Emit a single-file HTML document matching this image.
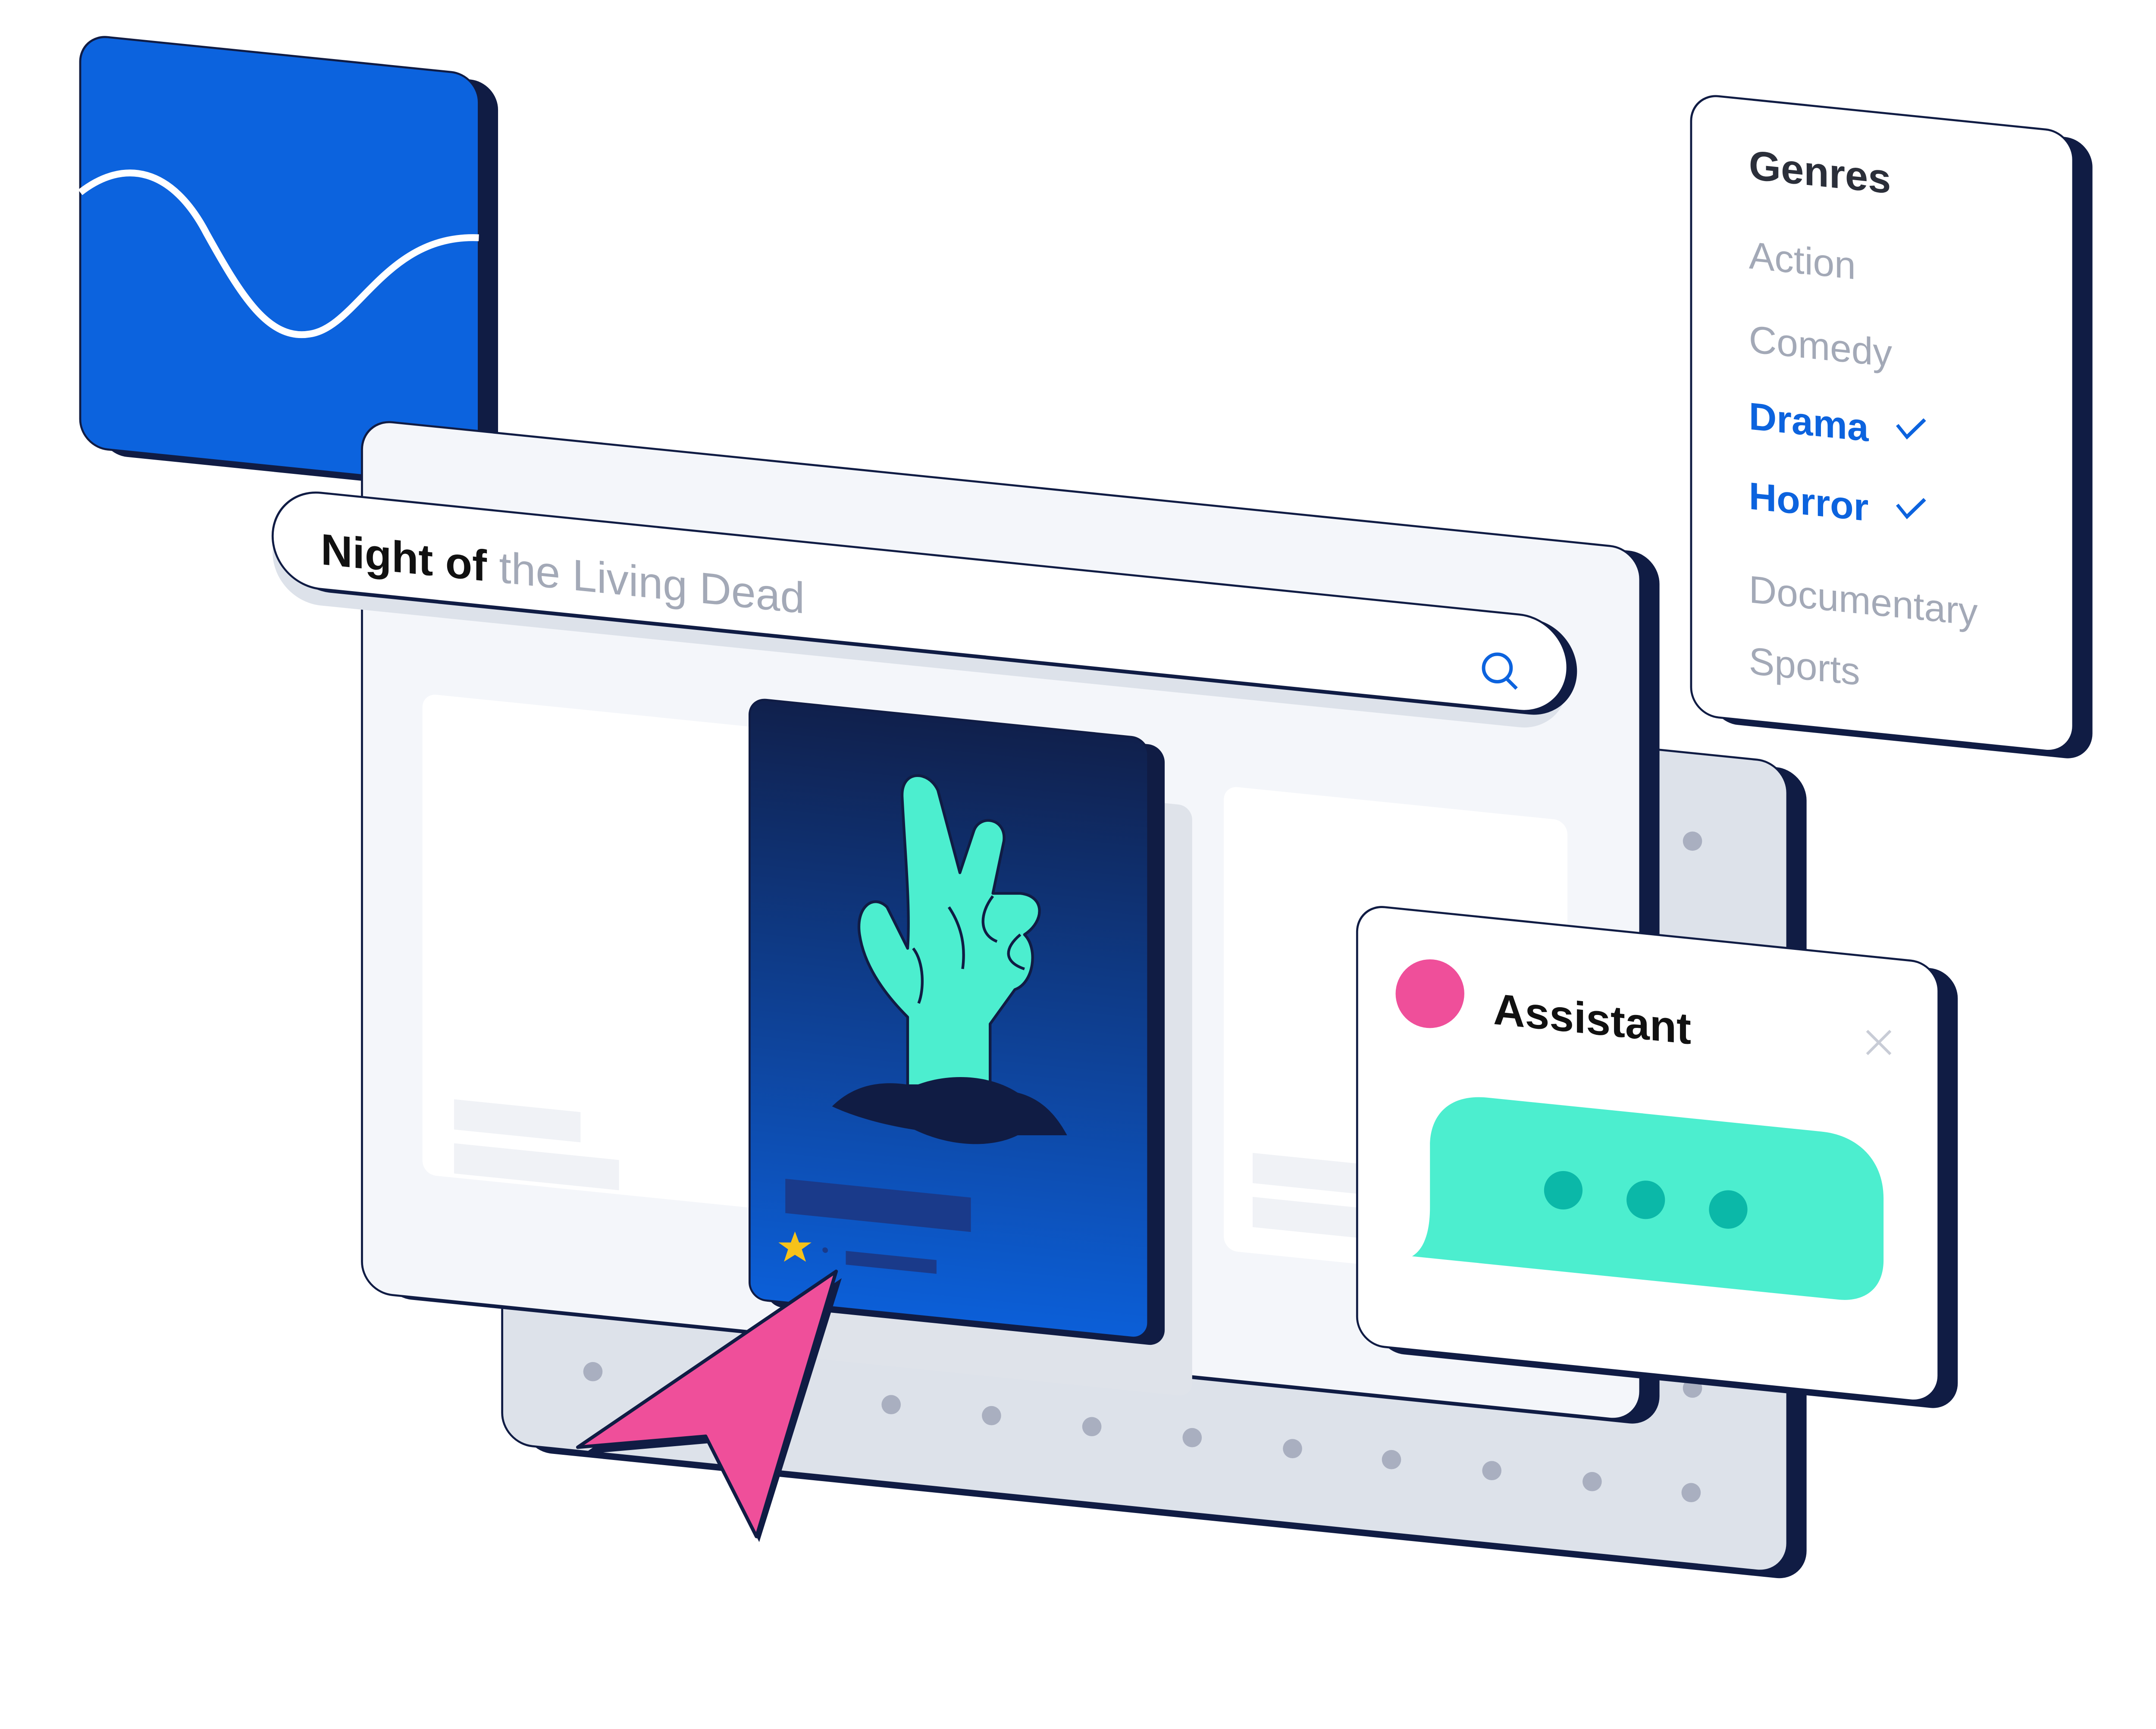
<!DOCTYPE html>
<html><head><meta charset="utf-8"><style>html,body{margin:0;padding:0;background:#fff;overflow:hidden}svg{display:block}</style></head>
<body>
<svg width="5367" height="4010" viewBox="0 0 1683 1258" xmlns="http://www.w3.org/2000/svg" font-family="Liberation Sans, sans-serif">
<defs>
<linearGradient id="pg" x1="0" y1="0" x2="0" y2="1"><stop offset="0" stop-color="#10204c"/><stop offset="1" stop-color="#0c5fd8"/></linearGradient>
</defs>
<rect width="1683" height="1258" fill="#fff"/>

<g transform="translate(365,460) skewY(5.8)">
<rect x="14" y="4" width="935" height="590" rx="22" fill="#101c44"/>
<rect x="0" y="0" width="935" height="590" rx="22" fill="#dde2ea" stroke="#101c44" stroke-width="1.5"/>
</g>
<g fill="#a9afc0">
<circle cx="1231" cy="612" r="7"/><circle cx="1231" cy="1010" r="7"/><circle cx="431" cy="998" r="7"/>
<circle cx="648" cy="1022" r="7"/><circle cx="721" cy="1030" r="7"/><circle cx="794" cy="1038" r="7"/><circle cx="867" cy="1046" r="7"/><circle cx="940" cy="1054" r="7"/><circle cx="1012" cy="1062" r="7"/><circle cx="1085" cy="1070" r="7"/><circle cx="1158" cy="1078" r="7"/><circle cx="1230" cy="1086" r="7"/>
</g>

<g transform="translate(58,25) skewY(5.8)">
<rect x="14" y="4" width="290" height="300" rx="20" fill="#101c44"/>
<rect x="0" y="0" width="290" height="300" rx="20" fill="#0c63de" stroke="#101c44" stroke-width="1.5"/>
</g>
<path d="M58,140 C90,115 125,122 150,170 C175,215 195,248 225,243 C260,238 280,170 348,173" fill="none" stroke="#fff" stroke-width="5"/>

<g transform="translate(263,305) skewY(5.8)">
<rect x="14" y="2" width="930" height="635" rx="22" fill="#101c44"/>
<rect x="0" y="0" width="930" height="635" rx="22" fill="#f4f6fa" stroke="#101c44" stroke-width="1.5"/>
<rect x="44" y="195" width="250" height="350" rx="10" fill="#fff"/>
<rect x="627" y="203" width="250" height="338" rx="10" fill="#fff"/>
<rect x="67" y="488" width="92" height="22" fill="#f0f2f6"/>
<rect x="67" y="520" width="120" height="22" fill="#f0f2f6"/>
<rect x="648" y="468" width="92" height="22" fill="#f0f2f6"/>
<rect x="648" y="500" width="120" height="22" fill="#f0f2f6"/>
<rect x="304" y="220" width="300" height="430" rx="10" fill="#dfe3ea"/>
</g>

<g transform="translate(545,508) skewY(5.8)">
<rect x="12" y="4" width="290" height="437" rx="12" fill="#101c44"/>
<rect x="0" y="0" width="290" height="437" rx="12" fill="url(#pg)" stroke="#101c44" stroke-width="1.5"/>
<rect x="26" y="347" width="135" height="25" fill="#1a3a8a"/>
<rect x="70" y="395" width="66" height="10" fill="#1a3a8a"/>
<circle cx="55" cy="396" r="2" fill="#1a3a8a"/>
</g>
<polygon points="578,896 581,904 590,904 583,909 586,918 578,913 570,918 573,909 566,904 575,904" fill="#f6c21a"/>
<g stroke="#101c44" stroke-width="2" stroke-linejoin="round">
<path d="M660,790 L660,740 C640,720 628,700 625,680 C622,660 635,650 645,660 L660,690 C662,660 658,620 656,580 C655,560 675,560 682,575 L698,635 L708,605 C712,592 732,595 730,612 L722,650 L742,650 C760,652 760,670 745,680 C755,690 752,715 738,720 L720,745 L720,790 Z" fill="#4ceecf"/>
<path d="M722,652 C712,665 712,680 725,685 M742,680 C730,690 730,700 745,705 M664,690 C672,700 672,720 668,730 M690,660 C700,675 702,690 700,705" fill="none"/>
</g>
<path d="M605,805 C620,790 640,785 665,790 C690,780 720,782 740,795 C760,800 770,815 776,826 L740,826 C720,836 690,834 665,822 C640,818 620,812 605,805 Z" fill="#101c44"/>

<g transform="translate(198,355) skewY(5.8)">
<rect x="0" y="12" width="942" height="70" rx="35" fill="#dde2ea"/>
<rect x="7" y="2" width="942" height="70" rx="35" fill="#101c44"/>
<rect x="0" y="0" width="942" height="70" rx="35" fill="#fff" stroke="#101c44" stroke-width="1.5"/>
<text x="35" y="52" font-size="32"><tspan font-weight="bold" fill="#111">Night of</tspan><tspan fill="#a3a9b7"> the Living Dead</tspan></text>
</g>
<circle cx="1089" cy="486" r="10" fill="none" stroke="#0c63de" stroke-width="2.5"/>
<line x1="1096" y1="494" x2="1103" y2="501" stroke="#0c63de" stroke-width="2.5"/>

<g transform="translate(1230,68) skewY(5.8)">
<rect x="14" y="4" width="278" height="452" rx="20" fill="#101c44"/>
<rect x="0" y="0" width="278" height="452" rx="20" fill="#fff" stroke="#101c44" stroke-width="1.5"/>
<text x="42" y="58" font-size="30" font-weight="bold" fill="#2b2f3a">Genres</text>
<g font-size="28" fill="#a3a9b7">
<text x="42" y="123">Action</text>
<text x="42" y="184">Comedy</text>
<text x="42" y="240" font-weight="bold" fill="#0c63de">Drama</text>
<text x="42" y="298" font-weight="bold" fill="#0c63de">Horror</text>
<text x="42" y="366">Documentary</text>
<text x="42" y="418">Sports</text>
</g>
<path d="M150,226 L157,234 L170,220 M150,284 L157,292 L170,278" fill="none" stroke="#0c63de" stroke-width="2.5"/>
</g>

<g transform="translate(987,658) skewY(5.8)">
<rect x="14" y="4" width="423" height="320" rx="20" fill="#101c44"/>
<rect x="0" y="0" width="423" height="320" rx="20" fill="#fff" stroke="#101c44" stroke-width="1.5"/>
<text x="99" y="77" font-size="32" font-weight="bold" fill="#111">Assistant</text>
<path d="M53,175 L53,170 C53,150 65,131 95,131 L338,131 C365,131 383,148 383,175 L383,220 C383,240 370,252 350,252 L40,252 C50,245 53,230 53,215 Z" fill="#4ceecf"/>
</g>
<circle cx="1040" cy="723" r="25" fill="#ef4f9a"/>
<path d="M1358,750 L1375,767 M1375,750 L1358,767" stroke="#c8ccd6" stroke-width="2"/>
<circle cx="1137" cy="866" r="14" fill="#0bb8a8"/><circle cx="1197" cy="873" r="14" fill="#0bb8a8"/><circle cx="1257" cy="880" r="14" fill="#0bb8a8"/>

<path d="M612,930 L424,1058 L516,1050 L552,1122 Z" fill="#101c44"/>
<path d="M608,925 L420,1053 L513,1045 L550,1118 Z" fill="#ef4f9a" stroke="#101c44" stroke-width="2.5" stroke-linejoin="round"/>
</svg>
</body></html>
